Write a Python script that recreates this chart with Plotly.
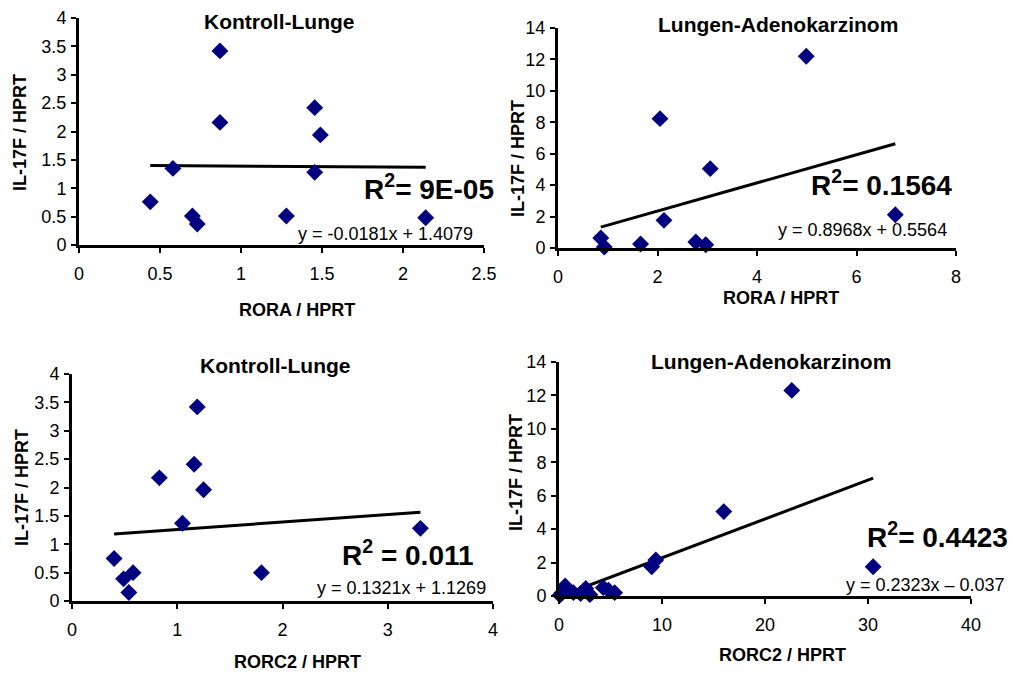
import plotly.graph_objects as go

W, H = 1012, 673

# ---- data ----
rora_ctrl_x = [0.44, 0.58, 0.87, 0.87, 0.70, 0.73, 1.455, 1.49, 1.455, 1.28, 2.14]
rora_ctrl_y = [0.76, 1.35, 3.42, 2.16, 0.51, 0.37, 2.42, 1.94, 1.28, 0.51, 0.48]

rora_tum_x = [0.86, 0.93, 1.66, 2.05, 2.13, 2.77, 2.97, 3.06, 4.99, 6.78]
rora_tum_y = [0.64, 0.06, 0.25, 8.23, 1.76, 0.38, 0.21, 5.05, 12.2, 2.12]

rorc_ctrl_x = [0.40, 0.49, 0.54, 0.58, 0.83, 1.05, 1.16, 1.19, 1.25, 1.80, 3.31]
rorc_ctrl_y = [0.75, 0.39, 0.15, 0.50, 2.17, 1.37, 2.41, 3.42, 1.96, 0.50, 1.28]

rorc_tum_x = [0.1, 0.3, 0.6, 1.4, 2.1, 2.6, 3.0, 4.3, 4.8, 5.4, 9.0, 9.4, 16.0, 22.6, 30.5]
rorc_tum_y = [0.05, 0.2, 0.6, 0.2, 0.15, 0.45, 0.08, 0.5, 0.35, 0.2, 1.75, 2.15, 5.05, 12.3, 1.75]

slopes = [-0.0181, 0.8968, 0.1321, 0.2323]
intercepts = [1.4079, 0.5564, 1.1269, -0.037]
r2_labels = ["R<sup>2</sup>= 9E-05", "R<sup>2</sup>= 0.1564", "R<sup>2</sup> = 0.011", "R<sup>2</sup>= 0.4423"]
eq_labels = ["y = -0.0181x + 1.4079", "y = 0.8968x + 0.5564", "y = 0.1321x + 1.1269", "y = 0.2323x \u2013 0.037"]
titles = ["Kontroll-Lunge", "Lungen-Adenokarzinom", "Kontroll-Lunge", "Lungen-Adenokarzinom"]
x_titles = ["RORA / HPRT", "RORA / HPRT", "RORC2 / HPRT", "RORC2 / HPRT"]
y_title = "IL-17F / HPRT"
x_ranges = [[0, 2.5], [0, 8], [0, 4], [0, 40]]
x_dticks = [0.5, 2, 1, 10]
y_ranges = [[0, 4], [0, 14], [0, 4], [0, 14]]
y_dticks = [0.5, 2, 0.5, 2]

datasets = [(rora_ctrl_x, rora_ctrl_y), (rora_tum_x, rora_tum_y),
            (rorc_ctrl_x, rorc_ctrl_y), (rorc_tum_x, rorc_tum_y)]

# ---- layout (pixel boxes: left, right, top, bottom) ----
boxes = [(79, 484, 18, 245), (558, 956, 28, 248), (72, 493, 374, 601), (559, 971, 362, 596)]
title_pos = [(279, 21), (778, 25), (275, 365), (771, 361)]
r2_pos = [(362, 187), (809, 183), (340, 553), (865, 535)]
eq_pos = [(296, 234), (776, 230), (315, 588), (844, 585)]
xt_pos = [(297, 310), (781, 298), (297, 662), (782, 655)]
yt_pos = [(20, 133), (518, 159), (22, 488), (516, 473)]

FONT = "Liberation Sans, Arial, sans-serif"
fig = go.Figure()
ann = []

def px(x):
    return x / W

def py(y):
    return 1 - y / H

for i, (xs, ys) in enumerate(datasets):
    n = i + 1
    xa = "x" if n == 1 else f"x{n}"
    ya = "y" if n == 1 else f"y{n}"
    # trend line from the regression equation over the data's x span
    x0, x1 = min(xs), max(xs)
    fig.add_trace(go.Scatter(x=[x0, x1], y=[slopes[i] * x0 + intercepts[i], slopes[i] * x1 + intercepts[i]],
                             mode="lines", line=dict(color="black", width=3),
                             xaxis=xa, yaxis=ya, showlegend=False, hoverinfo="skip"))
    fig.add_trace(go.Scatter(x=xs, y=ys, mode="markers",
                             marker=dict(symbol="diamond", size=13, color="#000080"),
                             xaxis=xa, yaxis=ya, showlegend=False, cliponaxis=False))
    l, r, t, b = boxes[i]
    axis_common = dict(showline=True, linecolor="black", linewidth=3, ticks="outside",
                       ticklen=5, tickwidth=2, tickcolor="black", showgrid=False, zeroline=False,
                       automargin=False,
                       tickfont=dict(family=FONT, size=18, color="black"))
    fig.layout[f"xaxis{'' if n == 1 else n}"] = dict(
        domain=[px(l), px(r)], range=x_ranges[i], dtick=x_dticks[i], tick0=0,
        anchor=ya, ticklabelstandoff=5, **axis_common)
    fig.layout[f"yaxis{'' if n == 1 else n}"] = dict(
        domain=[py(b), py(t)], range=y_ranges[i], dtick=y_dticks[i], tick0=0,
        anchor=xa, ticklabelstandoff=1, **axis_common)

    ann.append(dict(text=f"<b>{titles[i]}</b>", x=px(title_pos[i][0]), y=py(title_pos[i][1]),
                    xanchor="center", yanchor="middle", font=dict(family=FONT, size=21, color="black")))
    ann.append(dict(text=f"<b>{r2_labels[i]}</b>", x=px(r2_pos[i][0]), y=py(r2_pos[i][1]),
                    xanchor="left", yanchor="middle", font=dict(family=FONT, size=28, color="black")))
    ann.append(dict(text=eq_labels[i], x=px(eq_pos[i][0]), y=py(eq_pos[i][1]),
                    xanchor="left", yanchor="middle", font=dict(family=FONT, size=18, color="black")))
    ann.append(dict(text=f"<b>{x_titles[i]}</b>", x=px(xt_pos[i][0]), y=py(xt_pos[i][1]),
                    xanchor="center", yanchor="middle", font=dict(family=FONT, size=18, color="black")))
    ann.append(dict(text=f"<b>{y_title}</b>", x=px(yt_pos[i][0]), y=py(yt_pos[i][1]), textangle=-90,
                    xanchor="center", yanchor="middle", font=dict(family=FONT, size=18, color="black")))

for a in ann:
    a.update(xref="paper", yref="paper", showarrow=False)

fig.update_layout(width=W, height=H, margin=dict(l=0, r=0, t=0, b=0, autoexpand=False),
                  template="none",
                  plot_bgcolor="white", paper_bgcolor="white", annotations=ann)

fig.write_html("out.html", config={"displayModeBar": False},
               post_script="document.body.style.margin='0px';document.body.style.overflow='hidden';")
